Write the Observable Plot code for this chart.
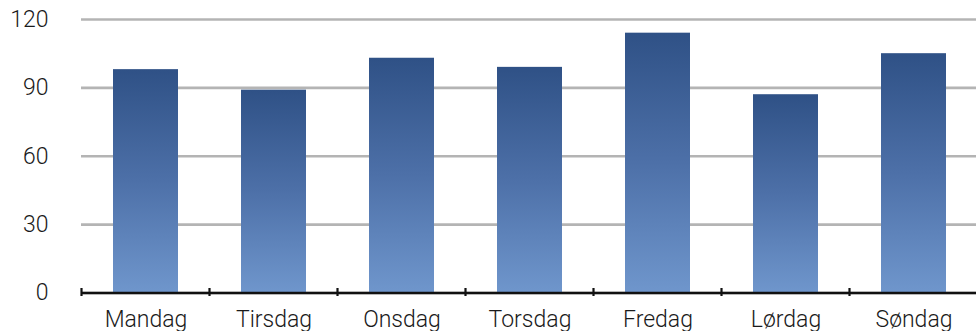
<!DOCTYPE html>
<html>
<head>
<meta charset="utf-8">
<script src="https://cdn.jsdelivr.net/npm/d3@7"></script>
<script src="https://cdn.jsdelivr.net/npm/@observablehq/plot@0.6"></script>
<style>
  html, body { margin: 0; padding: 0; background: #fff; }
  #chart svg { display: block; }
</style>
</head>
<body>
<div id="chart"></div>
<script>
const days = ["Mandag", "Tirsdag", "Onsdag", "Torsdag", "Fredag", "Lørdag", "Søndag"];
const values = [98, 89, 103, 99, 114, 87, 105];
const yTicks = [0, 30, 60, 90, 120];

const data = days.map((d, i) => ({day: d, value: values[i]}));

const plot = Plot.plot({
  width: 976,
  height: 331,
  marginTop: 19,
  marginBottom: 38.5,
  marginLeft: 81,
  marginRight: 0,
  style: {fontFamily: "Roboto, 'Liberation Sans', sans-serif", fontSize: "23px", fontWeight: 300, color: "#1a1a1a", background: "#fff"},
  x: {domain: days, range: [81, 978], paddingInner: 0.49, paddingOuter: 0.245, align: 0.5},
  y: {domain: [0, 120]},
  marks: [
    Plot.gridY(yTicks, {stroke: "#b4b4b4", strokeOpacity: 1, strokeWidth: 2.6}),
    Plot.barY(data, {x: "day", y: "value", fill: "url(#barGrad)"}),
    Plot.ruleY([0], {stroke: "#111", strokeWidth: 2.6}),
    Plot.axisY(yTicks, {tickSize: 0, tickPadding: 33, label: null, fill: "#1a1a1a"}),
    Plot.axisX({tickSize: 0, tickPadding: 18, label: null, fill: "#1a1a1a"})
  ]
});

const svg = d3.select(plot);
const defs = svg.insert("defs", ":first-child");
const grad = defs.append("linearGradient")
  .attr("id", "barGrad").attr("x1", 0).attr("y1", 0).attr("x2", 0).attr("y2", 1);
grad.append("stop").attr("offset", "0%").attr("stop-color", "#2f5186");
grad.append("stop").attr("offset", "50%").attr("stop-color", "#4d70a8");
grad.append("stop").attr("offset", "100%").attr("stop-color", "#6f96cc");

// band boundary ticks on the x axis, from the library's x scale
const xs = plot.scale("x");
const ys = plot.scale("y");
const y0 = ys.apply(0);
const bounds = days.map(d => xs.apply(d) - (xs.step - xs.bandwidth) / 2 - (xs.bandwidth) * 0 );
const tg = svg.append("g").attr("stroke", "#111").attr("stroke-width", 2.2);
days.forEach(d => {
  const left = xs.apply(d) - (xs.step - xs.bandwidth) / 2;
  tg.append("line")
    .attr("x1", left).attr("x2", left)
    .attr("y1", y0 - 4.5).attr("y2", y0 + 3.5);
});

document.getElementById("chart").appendChild(plot);
</script>
</body>
</html>
